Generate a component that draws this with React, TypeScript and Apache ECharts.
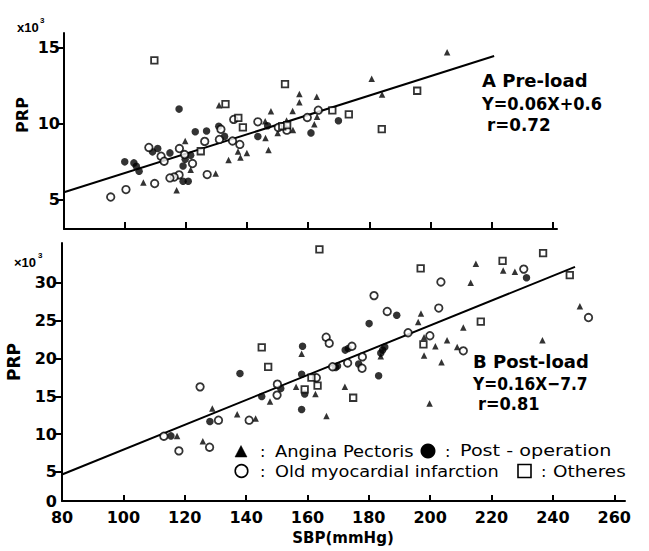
import { useEffect, useRef } from 'react';
import * as echarts from 'echarts';

// ---------- Panel A : Pre-load  [SBP (mmHg), PRP (x10^3)] ----------
const preAngina: [number, number][] = [
  [116.9, 5.6], [106, 6.1], [119.7, 8.85], [121.5, 6.95], [129.7, 6.7], [130.8, 11.2],
  [133.9, 7.6], [137, 8.15], [137.8, 7.75], [139.9, 8.05], [145.9, 10.15], [147.8, 10.8],
  [146, 9.05], [147, 8.25], [150, 9.38], [155, 9.57], [152.9, 10.2], [154.9, 10.83],
  [157.1, 11.95], [157.1, 11.4], [162.8, 11.76], [162.9, 10.44], [162, 9.95], [180.8, 12.95],
  [184.2, 11.92], [205.5, 14.7],
];
const preOperation: [number, number][] = [
  [99.9, 7.47], [102.9, 7.4], [103.7, 7.18], [104.6, 6.85], [109, 8.13], [110.7, 8.35],
  [114.7, 8.06], [117.7, 10.95], [119.7, 7.64], [121.5, 7.91], [119, 7.2], [119, 6.19],
  [120.7, 6.19], [123, 9.45], [126.7, 9.51], [130.7, 9.82], [132.6, 9.15], [143.5, 9.14],
  [146.7, 9.85], [160.9, 9.38], [169.9, 10.18],
];
const preOldMI: [number, number][] = [
  [95.3, 5.15], [100.3, 5.64], [109.7, 6.04], [107.8, 8.42], [111.8, 7.84], [112.8, 7.51],
  [117.8, 8.35], [119.5, 7.95], [122.1, 7.36], [126.1, 8.82], [126.9, 6.63], [117.7, 6.61],
  [116.1, 6.47], [114.7, 6.41], [131.4, 9.62], [135.2, 8.85], [135.6, 10.27], [137.6, 8.62],
  [143.5, 10.11], [150.2, 9.74], [153, 9.56], [159.7, 10.4], [163.3, 10.88], [130.9, 8.95],
];
const preOthers: [number, number][] = [
  [109.6, 14.17], [152.4, 12.6], [132.9, 11.28], [137.1, 10.37], [138.6, 9.74], [124.8, 8.17],
  [151.5, 9.82], [153.1, 9.89], [167.9, 10.86], [173.3, 10.6], [184.1, 9.63], [195.7, 12.16],
];
const preRegression: [number, number][] = [[80, 5.46], [220.9, 14.45]];

// ---------- Panel B : Post-load ----------
const postAngina: [number, number][] = [
  [129, 13.39], [137.1, 12.63], [143.1, 12.06], [147.8, 14.31], [117.5, 9.76], [125.9, 9.06],
  [158.1, 20.6], [156.3, 16.25], [162.6, 15.3], [172.2, 16.25], [166.2, 12.4], [183.9, 20.3],
  [197, 25.95], [196.1, 24.8], [198, 22.8], [201.7, 21.6], [198, 20.4], [203.7, 19.5],
  [199.8, 14.05], [214.9, 32.5], [223.8, 31.6], [227.6, 31.45], [213.2, 30.0], [248.8, 26.9],
  [210.8, 24.1], [205.5, 22.4], [208.8, 21.5], [236.6, 22.4],
];
const postOperation: [number, number][] = [
  [138, 18.0], [145.1, 14.97], [151.3, 16.03], [128.2, 11.67], [115.5, 9.76], [158.4, 21.6],
  [172.3, 21.1], [173.3, 21.3], [185.2, 21.5], [184.5, 21.1], [183.9, 20.7], [169.2, 18.8],
  [169.8, 19.0], [176.7, 19.25], [183.2, 17.7], [158.1, 17.9], [159.1, 15.3], [158.1, 13.25],
  [189.1, 25.7], [180.1, 24.6], [231.4, 30.66],
];
const postOldMI: [number, number][] = [
  [125, 16.24], [150.2, 16.6], [150.1, 15.15], [131, 11.84], [141, 11.84], [113.2, 9.72],
  [118.1, 7.78], [128.1, 8.27], [203.5, 30.1], [181.7, 28.3], [186, 26.2], [202.8, 26.65],
  [192.8, 23.4], [199.9, 23.0], [166.1, 22.8], [167.1, 22.0], [174.5, 21.6], [177.9, 20.2],
  [173.1, 19.4], [168.2, 18.9], [177.8, 18.7], [162.9, 17.45], [210.8, 21.0], [251.6, 25.4],
  [230.5, 31.8],
];
const postOthers: [number, number][] = [
  [145.1, 21.46], [147.2, 18.89], [163.9, 34.4], [196.9, 31.9], [197.8, 21.85], [161.3, 17.45],
  [163.3, 16.4], [159.1, 15.9], [174.9, 14.8], [236.8, 33.9], [223.6, 32.9], [245.5, 31.0],
  [216.5, 24.85],
];
const postRegression: [number, number][] = [[80, 4.66], [247.2, 32.1]];

// ---------- axes ----------
const topXTicks = [100, 120, 140, 160, 180, 200, 220, 240];
const botXTicks = [100, 120, 140, 160, 180, 200, 220, 240, 260];
const botXLabels = [80, 100, 120, 140, 160, 180, 200, 220, 240, 260];
const topYLabels = [5, 10, 15];
const botYTicks = [5, 10, 15, 20, 25, 30];
const BOT_Y_MIN = 1.16; // drawn origin of panel B, labelled "0"
const botYLabels = [BOT_Y_MIN, 5, 10, 15, 20, 25, 30];

const legendNames = ['Angina Pectoris', 'Post - operation', 'Old myocardial infarction', 'Otheres'];

const FONT = '"DejaVu Sans", sans-serif';
const SMALL_FONT = '"Liberation Sans", Arial, sans-serif';

export default function App() {
  const ref = useRef<HTMLDivElement>(null);
  useEffect(() => {
    if (!ref.current) return;
    const chart = echarts.init(ref.current, undefined, { renderer: 'svg' });

    const axisLine = { show: true, onZero: false, lineStyle: { color: '#000', width: 2 } };
    const labelStyle = { color: '#000', fontFamily: FONT, fontWeight: 'bold', fontSize: 16 };

    const scatter = (data: [number, number][], idx: number, symbol: string, size: number, filled: boolean) => ({
      type: 'scatter',
      xAxisIndex: idx,
      yAxisIndex: idx,
      data,
      symbol,
      symbolSize: size,
      silent: true,
      itemStyle: filled
        ? { color: '#000' }
        : { color: '#fff', borderColor: '#000', borderWidth: 1.8 },
      z: 3,
    });
    const line = (data: [number, number][], idx: number) => ({
      type: 'line',
      xAxisIndex: idx,
      yAxisIndex: idx,
      data,
      symbol: 'none',
      silent: true,
      lineStyle: { color: '#000', width: 2 },
      z: 2,
    });

    let n = 0;
    const txt = (text: string, x: number, y: number, size: number, weight: string, extra: any = {}) => {
      const { fontFamily, align, ...rest } = extra;
      n += 1;
      return {
        type: 'text',
        id: 't' + n,
        x,
        y,
        silent: true,
        z: 50,
        ...rest,
        style: {
          text,
          fill: '#000',
          fontFamily: fontFamily || FONT,
          fontSize: size,
          fontWeight: weight,
          align: align || 'left',
          verticalAlign: 'middle',
        },
      };
    };

    const option: any = {
      animation: false,
      backgroundColor: '#fff',
      grid: [
        { left: 64, top: 33, width: 493, height: 196 },
        { left: 62, top: 243, width: 563, height: 258 },
      ],
      xAxis: [
        {
          gridIndex: 0, type: 'value', min: 80, max: 241.5,
          axisLine,
          axisTick: { show: true, inside: true, length: 7, lineStyle: { color: '#000', width: 2 }, customValues: topXTicks },
          axisLabel: { show: false },
          splitLine: { show: false },
        },
        {
          gridIndex: 1, type: 'value', min: 80, max: 263.5,
          axisLine,
          axisTick: { show: true, inside: true, length: 6, lineStyle: { color: '#000', width: 2 }, customValues: botXTicks },
          axisLabel: { ...labelStyle, margin: 8, customValues: botXLabels },
          splitLine: { show: false },
        },
      ],
      yAxis: [
        {
          gridIndex: 0, type: 'value', min: 3.04, max: 15.97,
          axisLine,
          axisTick: { show: true, inside: false, length: 7, lineStyle: { color: '#000', width: 2 }, customValues: topYLabels },
          axisLabel: { ...labelStyle, margin: 4, customValues: topYLabels },
          splitLine: { show: false },
        },
        {
          gridIndex: 1, type: 'value', min: BOT_Y_MIN, max: 35.25,
          axisLine,
          axisTick: { show: true, inside: false, length: 8, lineStyle: { color: '#000', width: 2 }, customValues: botYTicks },
          axisLabel: {
            ...labelStyle, margin: 5, customValues: botYLabels,
            formatter: (v: number) => (v < 3 ? '0' : String(Math.round(v))),
          },
          splitLine: { show: false },
        },
      ],
      series: [
        line(preRegression, 0),
        scatter(preAngina, 0, 'triangle', 6.5, true),
        scatter(preOperation, 0, 'circle', 7.5, true),
        scatter(preOldMI, 0, 'circle', 7.5, false),
        scatter(preOthers, 0, 'rect', 6.5, false),
        line(postRegression, 1),
        scatter(postAngina, 1, 'triangle', 6.5, true),
        scatter(postOperation, 1, 'circle', 7.5, true),
        scatter(postOldMI, 1, 'circle', 7.5, false),
        scatter(postOthers, 1, 'rect', 6.5, false),
      ],
      graphic: {
        elements: [
          // scale multipliers
          txt('x10', 17, 27, 13, 'bold', { fontFamily: SMALL_FONT }),
          txt('3', 40, 20, 8, 'bold', { fontFamily: SMALL_FONT }),
          txt('×10', 14, 262, 13, 'bold', { fontFamily: SMALL_FONT }),
          txt('3', 38, 255, 8, 'bold', { fontFamily: SMALL_FONT }),
          // axis names
          txt('PRP', 22, 115, 16, 'bold', { rotation: Math.PI / 2, align: 'center' }),
          txt('PRP', 14, 362, 17, 'bold', { rotation: Math.PI / 2, align: 'center' }),
          txt('SBP(mmHg)', 343, 538, 15, 'bold', { align: 'center' }),
          // panel annotations
          txt('A Pre-load', 482, 80, 18, 'bold'),
          txt('Y=0.06X+0.6', 482, 104, 18, 'bold', { scaleX: 0.9 }),
          txt('r=0.72', 487, 125, 18, 'bold', { scaleX: 0.93 }),
          txt('B Post-load', 473, 361, 18, 'bold'),
          txt('Y=0.16X−7.7', 473, 384, 18, 'bold', { scaleX: 0.86 }),
          txt('r=0.81', 478, 404, 18, 'bold', { scaleX: 0.9 }),
          // legend
          txt(':', 260, 451, 16, 'normal'),
          txt(legendNames[0], 275, 451, 16, 'normal', { scaleX: 1.12 }),
          { type: 'circle', id: 'legDot', silent: true, z: 50, shape: { cx: 428, cy: 451, r: 7.5 }, style: { fill: '#000' } },
          txt(':', 445, 451, 16, 'normal'),
          txt(legendNames[1], 460, 451, 16, 'normal', { scaleX: 1.2 }),
          { type: 'circle', id: 'legRing', silent: true, z: 50, shape: { cx: 241.5, cy: 471, r: 6.3 }, style: { fill: '#fff', stroke: '#000', lineWidth: 1.6 } },
          txt(':', 260, 471, 16, 'normal'),
          txt(legendNames[2], 275, 471, 16, 'normal', { scaleX: 1.11 }),
          { type: 'rect', id: 'legBox', silent: true, z: 50, shape: { x: 518, y: 464.5, width: 13, height: 13 }, style: { fill: '#fff', stroke: '#000', lineWidth: 1.6 } },
          txt(':', 541, 471, 16, 'normal'),
          txt(legendNames[3], 553, 471, 16, 'normal', { scaleX: 1.15 }),
          {
            type: 'polygon', id: 'legTri', silent: true, z: 50,
            shape: { points: [[235, 457], [247, 457], [241, 445.5]] },
            style: { fill: '#000', stroke: '#000', lineWidth: 0.5 },
          },
        ],
      },
    };

    chart.setOption(option);
    return () => chart.dispose();
  }, []);

  return (
    <div
      ref={ref}
      style={{ position: 'absolute', left: 0, top: 0, width: 649, height: 551, background: '#fff' }}
    />
  );
}
